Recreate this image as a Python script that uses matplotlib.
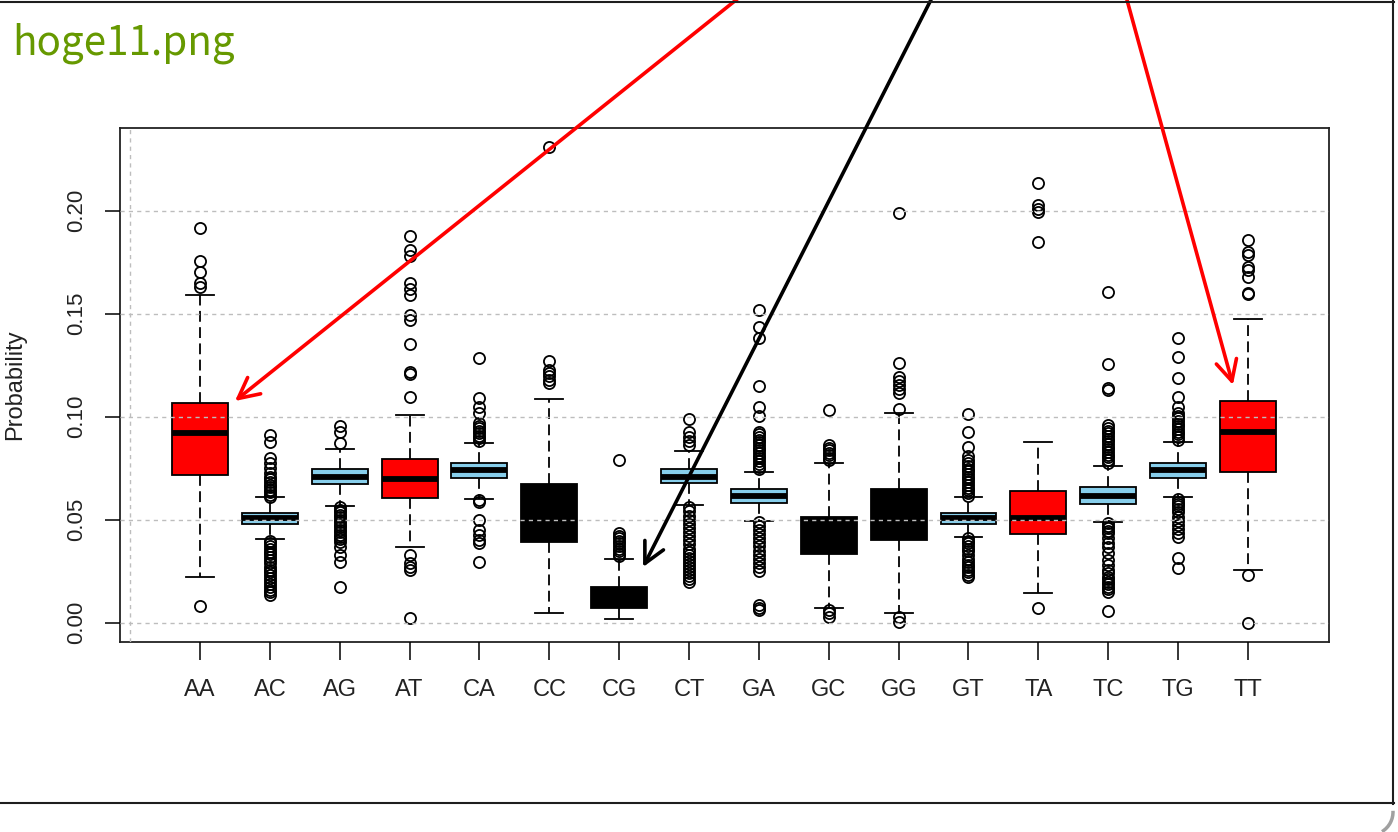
import matplotlib
matplotlib.use("Agg")
import matplotlib.pyplot as plt
from matplotlib.lines import Line2D
from matplotlib.patches import Arc

# Dinucleotide probability distributions (box statistics)
categories = ["AA", "AC", "AG", "AT", "CA", "CC", "CG", "CT",
              "GA", "GC", "GG", "GT", "TA", "TC", "TG", "TT"]
q1 = [0.0716, 0.0479, 0.0673, 0.0607, 0.0704, 0.0390, 0.0070, 0.0677,
      0.0580, 0.0333, 0.0401, 0.0479, 0.0431, 0.0576, 0.0704, 0.0733]
medians = [0.0919, 0.0507, 0.0709, 0.0696, 0.0741, 0.0520, 0.0125, 0.0709,
           0.0615, 0.0430, 0.0520, 0.0507, 0.0510, 0.0617, 0.0741, 0.0927]
q3 = [0.1068, 0.0534, 0.0746, 0.0793, 0.0777, 0.0672, 0.0175, 0.0746,
      0.0649, 0.0515, 0.0649, 0.0531, 0.0639, 0.0657, 0.0777, 0.1076]
whisker_low = [0.0220, 0.0405, 0.0568, 0.0366, 0.0600, 0.0046, 0.0017, 0.0571,
               0.0494, 0.0073, 0.0046, 0.0415, 0.0143, 0.0490, 0.0609, 0.0256]
whisker_high = [0.1592, 0.0609, 0.0842, 0.1008, 0.0871, 0.1087, 0.0308, 0.0833,
                0.0733, 0.0774, 0.1016, 0.0612, 0.0879, 0.0762, 0.0879, 0.1473]
box_colors = ["red", "skyblue", "skyblue", "red", "skyblue", "black", "black", "skyblue",
              "skyblue", "black", "black", "skyblue", "red", "skyblue", "skyblue", "red"]

# Outlying observations per dinucleotide
out_AA = [0.1918, 0.1756, 0.1704, 0.1650, 0.1631, 0.0081]
out_AC = [0.0911, 0.0879, 0.0798, 0.0774, 0.0749, 0.0728, 0.0709, 0.0695, 0.0682,
          0.0670, 0.0658, 0.0646, 0.0634, 0.0622, 0.0612,
          0.0398, 0.0385, 0.0372, 0.0358, 0.0345, 0.0332, 0.0318, 0.0304, 0.0288,
          0.0272, 0.0258, 0.0244, 0.0230, 0.0216, 0.0202, 0.0188, 0.0174, 0.0160,
          0.0148, 0.0136]
out_AG = [0.0955, 0.0927, 0.0874,
          0.0560, 0.0548, 0.0536, 0.0524, 0.0512, 0.0500, 0.0488, 0.0476, 0.0464,
          0.0452, 0.0440, 0.0428, 0.0416, 0.0404, 0.0390, 0.0365, 0.0330, 0.0296,
          0.0175]
out_AT = [0.1877, 0.1809, 0.1780, 0.1648, 0.1618, 0.1591, 0.1494, 0.1469, 0.1353,
          0.1215, 0.1207, 0.1097, 0.0329, 0.0290, 0.0272, 0.0256, 0.0021]
out_CA = [0.1283, 0.1089, 0.1049, 0.1018, 0.0967, 0.0955, 0.0943, 0.0931, 0.0919,
          0.0907, 0.0895, 0.0883, 0.0596, 0.0585, 0.0499, 0.0450, 0.0426, 0.0400,
          0.0387, 0.0296]
out_CC = [0.2311, 0.1270, 0.1226, 0.1210, 0.1195, 0.1180, 0.1165]
out_CG = [0.0790, 0.0435, 0.0422, 0.0410, 0.0398, 0.0385, 0.0372, 0.0360, 0.0347,
          0.0335, 0.0322]
out_CT = [0.0987, 0.0927, 0.0900, 0.0880, 0.0862,
          0.0560, 0.0540, 0.0520, 0.0500, 0.0480, 0.0460, 0.0440, 0.0420, 0.0400,
          0.0380, 0.0360, 0.0345, 0.0330, 0.0315, 0.0300, 0.0285, 0.0270, 0.0255,
          0.0240, 0.0225, 0.0210, 0.0199]
out_GA = [0.1518, 0.1437, 0.1380, 0.1149, 0.1049, 0.1003,
          0.0927, 0.0914, 0.0901, 0.0888, 0.0875, 0.0862, 0.0849, 0.0836, 0.0823,
          0.0810, 0.0797, 0.0784, 0.0771, 0.0758, 0.0745,
          0.0490, 0.0470, 0.0450, 0.0430, 0.0410, 0.0390, 0.0370, 0.0350, 0.0330,
          0.0310, 0.0290, 0.0270, 0.0250, 0.0085, 0.0072, 0.0060]
out_GC = [0.1033, 0.0863, 0.0850, 0.0838, 0.0825, 0.0812, 0.0800, 0.0790,
          0.0062, 0.0045, 0.0030]
out_GG = [0.1987, 0.1259, 0.1194, 0.1175, 0.1155, 0.1135, 0.1114, 0.1036,
          0.0029, 0.0005]
out_GT = [0.1013, 0.0924, 0.0854, 0.0810, 0.0790, 0.0773, 0.0760, 0.0747, 0.0734,
          0.0721, 0.0708, 0.0695, 0.0682, 0.0669, 0.0656, 0.0643, 0.0630, 0.0617,
          0.0410, 0.0398, 0.0385, 0.0372, 0.0360, 0.0347, 0.0330, 0.0310, 0.0295,
          0.0282, 0.0270, 0.0257, 0.0245, 0.0232, 0.0220]
out_TA = [0.2133, 0.2028, 0.2010, 0.1995, 0.1847, 0.0070]
out_TC = [0.1604, 0.1254, 0.1138, 0.1128, 0.0960, 0.0945, 0.0932, 0.0919, 0.0906,
          0.0893, 0.0880, 0.0867, 0.0854, 0.0841, 0.0828, 0.0815, 0.0802, 0.0789,
          0.0776,
          0.0482, 0.0470, 0.0458, 0.0446, 0.0434, 0.0410, 0.0385, 0.0369, 0.0340,
          0.0304, 0.0280, 0.0256, 0.0240, 0.0223, 0.0211, 0.0199, 0.0187, 0.0175,
          0.0163, 0.0151, 0.0057]
out_TG = [0.1381, 0.1291, 0.1186, 0.1097, 0.1049, 0.1018, 0.1005, 0.0992, 0.0979,
          0.0966, 0.0953, 0.0940, 0.0927, 0.0914, 0.0901, 0.0888,
          0.0600, 0.0588, 0.0576, 0.0564, 0.0552, 0.0535, 0.0515, 0.0495, 0.0475,
          0.0455, 0.0435, 0.0416, 0.0313, 0.0264]
out_TT = [0.1858, 0.1801, 0.1785, 0.1728, 0.1710, 0.1680, 0.1599, 0.1594,
          0.0232, 0.0000]

outliers = [out_AA, out_AC, out_AG, out_AT, out_CA, out_CC, out_CG, out_CT,
            out_GA, out_GC, out_GG, out_GT, out_TA, out_TC, out_TG, out_TT]

y_ticks = [0.00, 0.05, 0.10, 0.15, 0.20]
y_tick_labels = ["0.00", "0.05", "0.10", "0.15", "0.20"]
x_grid = [0, 5, 10, 15]

plt.rcParams["font.family"] = ["Liberation Sans", "DejaVu Sans"]

W, H = 1398, 832
fig = plt.figure(figsize=(W / 100, H / 100), dpi=100)
fig.patch.set_facecolor("white")
ax = fig.add_axes([120 / W, 1 - 642 / H, 1209 / W, 514 / H])

positions = list(range(1, len(categories) + 1))
stats = [dict(label=c, q1=a, med=m, q3=b, whislo=lo, whishi=hi, fliers=f)
         for c, a, m, b, lo, hi, f in zip(categories, q1, medians, q3,
                                           whisker_low, whisker_high, outliers)]

bp = ax.bxp(stats, positions=positions, widths=0.8, capwidths=0.4,
            patch_artist=True, showfliers=True,
            boxprops=dict(edgecolor="black", linewidth=1.3),
            medianprops=dict(color="black", linewidth=4.2, solid_capstyle="butt"),
            whiskerprops=dict(color="black", linewidth=1.3, linestyle=(0, (6, 3))),
            capprops=dict(color="black", linewidth=1.3),
            flierprops=dict(marker="o", markerfacecolor="none",
                            markeredgecolor="black", markersize=8,
                            markeredgewidth=1.3, linestyle="none"))
for patch, col in zip(bp["boxes"], box_colors):
    patch.set_facecolor(col)

ax.set_xlim(-0.1446, 17.16)
ax.set_ylim(-0.00937, 0.2401)

ax.set_xticks(positions)
ax.set_xticklabels(categories, fontsize=17, color="#222222")
ax.set_xticks(x_grid, minor=True)
ax.set_yticks(y_ticks)
ax.set_yticklabels(y_tick_labels, fontsize=16, color="#222222")
ax.tick_params(axis="x", which="major", length=13, width=1.1, pad=14)
ax.tick_params(axis="x", which="minor", length=0)
ax.tick_params(axis="y", length=11, width=1.1, pad=13, labelrotation=90)
for lab in ax.get_yticklabels():
    lab.set_va("center")

# dotted light-gray grid drawn over the boxes
ax.set_axisbelow(False)
ax.grid(True, axis="y", which="major", color="#bdbdbd", linewidth=1.0,
        linestyle=(0, (3, 3)))
ax.grid(True, axis="x", which="minor", color="#bdbdbd", linewidth=1.0,
        linestyle=(0, (3, 3)))
ax.grid(False, axis="x", which="major")

for sp in ax.spines.values():
    sp.set_linewidth(1.3)
    sp.set_color("#222222")

ax.set_ylabel("Probability", fontsize=17, color="#222222", va="center")
ax.yaxis.set_label_coords(-0.0868, 0.5)

# annotation arrows pointing at AA, CG and TT
arrow_specs = [((1.501, 0.1076), (761, H + 20), "red"),
               ((7.342, 0.0270), (941, H + 20), "black"),
               ((15.785, 0.1154), (1121.5, H + 20), "red")]
for tip, start, col in arrow_specs:
    ax.annotate("", xy=tip, xycoords="data", xytext=start,
                textcoords="figure pixels", annotation_clip=False,
                arrowprops=dict(arrowstyle="->,head_length=0.74,head_width=0.375",
                                color=col, lw=2.6, mutation_scale=20,
                                shrinkA=0, shrinkB=0), zorder=10)

fig.text(12 / W, 1 - 55 / H, "hoge11.png", fontsize=29, color="#669900",
         family=["Noto Sans CJK JP", "DejaVu Sans"], ha="left", va="baseline")

# surrounding frame
frame_col = "#1e1e1e"
fig.add_artist(Line2D([0, 1393.5 / W], [1 - 1.5 / H] * 2, transform=fig.transFigure,
                      color=frame_col, lw=1.5))
fig.add_artist(Line2D([1392.5 / W] * 2, [1, 1 - 803.5 / H], transform=fig.transFigure,
                      color=frame_col, lw=1.5))
fig.add_artist(Line2D([0, 1393.5 / W], [1 - 803 / H] * 2, transform=fig.transFigure,
                      color=frame_col, lw=1.5))
fig.add_artist(Arc((1370 / W, 1 - 812 / H), 46 / W, 46 / H, theta1=-70, theta2=5,
                   transform=fig.transFigure, color="#a0a0a0", lw=2.5))

fig.savefig("out.png", dpi=100, facecolor="white")
